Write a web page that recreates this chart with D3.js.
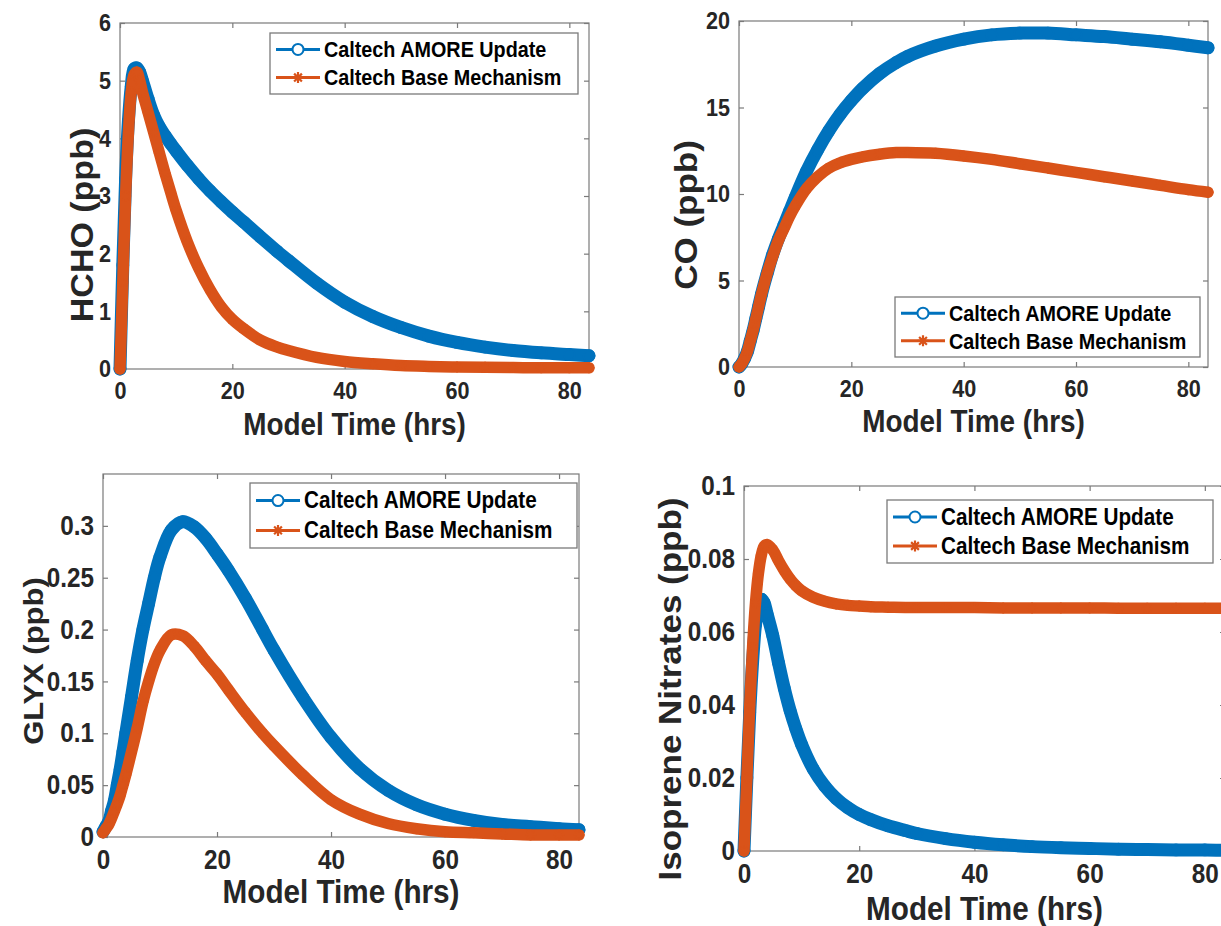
<!DOCTYPE html>
<html><head><meta charset="utf-8">
<script src="https://cdn.jsdelivr.net/npm/d3@7"></script>
<style>
body{margin:0;background:#fff}
svg{display:block}
text{font-family:"Liberation Sans",Arial,Helvetica,sans-serif;font-weight:bold}
</style>
</head><body>
<svg id="chart" width="1221" height="926"></svg>
<script>
// ---- data ----
const hours = [0,0.5,1,1.5,2,2.5,3,3.5,4,5,6,7,8,9,10,12,14,16,18,20,22,25,28,30,35,40,45,50,55,60,65,70,75,80,83.5];
const seriesNames = ["Caltech AMORE Update","Caltech Base Mechanism"];

const hchoAmore = [0,1.8,3.3,4.3,4.9,5.2,5.22,5.15,5.0,4.68,4.4,4.2,4.05,3.91,3.78,3.53,3.3,3.09,2.9,2.72,2.55,2.29,2.04,1.88,1.49,1.16,0.91,0.72,0.57,0.46,0.38,0.32,0.28,0.25,0.23];
const hchoBase  = [0,1.5,3.0,4.1,4.8,5.1,5.15,5.0,4.8,4.45,4.1,3.75,3.4,3.07,2.75,2.2,1.75,1.38,1.08,0.86,0.7,0.5,0.38,0.32,0.2,0.13,0.09,0.06,0.045,0.035,0.03,0.025,0.02,0.02,0.02];

const coAmore = [0,0.2,0.5,0.9,1.5,2.1,2.8,3.5,4.2,5.4,6.5,7.4,8.2,9.0,9.8,11.3,12.55,13.65,14.6,15.4,16.1,16.95,17.6,17.95,18.55,18.95,19.2,19.3,19.3,19.2,19.1,18.95,18.8,18.6,18.45];
const coBase  = [0,0.2,0.5,0.9,1.5,2.1,2.8,3.5,4.2,5.4,6.4,7.3,8.0,8.7,9.3,10.3,11.0,11.5,11.8,12.0,12.15,12.3,12.4,12.4,12.35,12.2,12.0,11.75,11.5,11.25,11.0,10.75,10.5,10.25,10.1];

const glyxAmore = [0.005,0.01,0.015,0.025,0.035,0.05,0.065,0.082,0.1,0.135,0.17,0.2,0.225,0.25,0.27,0.296,0.304,0.299,0.288,0.273,0.257,0.23,0.2,0.18,0.135,0.096,0.066,0.045,0.031,0.022,0.016,0.012,0.01,0.008,0.007];
const glyxBase  = [0.004,0.008,0.012,0.018,0.025,0.032,0.04,0.05,0.06,0.082,0.105,0.13,0.15,0.167,0.18,0.195,0.194,0.184,0.17,0.157,0.142,0.12,0.1,0.088,0.06,0.036,0.022,0.013,0.008,0.005,0.004,0.003,0.002,0.002,0.002];

const isonAmore = [0,0.02,0.038,0.052,0.062,0.067,0.069,0.068,0.065,0.059,0.0515,0.0445,0.0385,0.0335,0.0292,0.0225,0.0178,0.0144,0.0119,0.01,0.0086,0.0069,0.0056,0.0048,0.0034,0.0024,0.0017,0.0012,0.0009,0.0007,0.0005,0.0004,0.0003,0.0003,0.0002];
const isonBase  = [0,0.02,0.04,0.056,0.068,0.076,0.081,0.0835,0.084,0.0825,0.0795,0.0768,0.0745,0.0727,0.0713,0.0695,0.0684,0.0677,0.0673,0.0671,0.0669,0.0668,0.0667,0.0667,0.0667,0.0667,0.0666,0.0666,0.0666,0.0666,0.0665,0.0665,0.0665,0.0665,0.0665];

const xTicks = [0,20,40,60,80];
const hchoTicks = [0,1,2,3,4,5,6];
const coTicks = [0,5,10,15,20];
const glyxTicks = [0,0.05,0.1,0.15,0.2,0.25,0.3];
const isonTicks = [0,0.02,0.04,0.06,0.08,0.1];
const xTitle = "Model Time (hrs)";

// ---- layout / style ----
const blue = "#0072BD", orange = "#D95319";
const SX = 0.9; // horizontal squeeze of the reference lettering
const panels = [
  {a:hchoAmore,b:hchoBase,yMax:6,yt:hchoTicks,yl:"HCHO (ppb)",
   L:120,R:589,T:23,B:369, tfs:24, xfs:31, yfs:34, ylx:83, yly:225, xly:435,
   leg:{x:270,y:33,w:308,h:61}},
  {a:coAmore,b:coBase,yMax:20,yt:coTicks,yl:"CO (ppb)",
   L:739,R:1208,T:21,B:367, tfs:24, xfs:31, yfs:35, ylx:686, yly:215, xly:432,
   leg:{x:895,y:297,w:305,h:60}},
  {a:glyxAmore,b:glyxBase,yMax:0.35,yt:glyxTicks,yl:"GLYX (ppb)",
   L:103,R:579,T:474,B:837, tfs:27, xfs:33, yfs:31, ylx:33, yly:661, xly:903,
   leg:{x:250,y:483,w:327,h:65}},
  {a:isonAmore,b:isonBase,yMax:0.1,yt:isonTicks,yl:"Isoprene Nitrates (ppb)",
   L:744,R:1225,T:486,B:851, tfs:27, xfs:33, yfs:35, ylx:670, yly:689, xly:920,
   leg:{x:887,y:500,w:326,h:63}}
];

const svg = d3.select("#chart");

function asteriskPath(r){
  const d = r*0.7071;
  return `M${-r},0L${r},0M0,${-r}L0,${r}M${-d},${-d}L${d},${d}M${-d},${d}L${d},${-d}`;
}

panels.forEach(p=>{
  const g = svg.append("g");
  const x = d3.scaleLinear().domain([0,83.5]).range([p.L,p.R]);
  const y = d3.scaleLinear().domain([0,p.yMax]).range([p.B,p.T]);
  const tl = 5;
  const fmt = v => String(+v.toFixed(4));

  // box
  g.append("rect").attr("x",p.L).attr("y",p.T).attr("width",p.R-p.L).attr("height",p.B-p.T)
    .attr("fill","none").attr("stroke","#7a7a7a").attr("stroke-width",1.2);

  // axes (inward ticks on all four sides)
  const axB = d3.axisBottom(x).tickValues(xTicks).tickSize(tl).tickFormat(fmt);
  const axT = d3.axisTop(x).tickValues(xTicks).tickSize(tl).tickFormat("");
  const axL = d3.axisLeft(y).tickValues(p.yt).tickSize(tl).tickFormat(fmt);
  const axR = d3.axisRight(y).tickValues(p.yt).tickSize(tl).tickFormat("");

  const gB = g.append("g").attr("transform",`translate(0,${p.B})`).call(axB);
  gB.selectAll(".tick line").attr("y2",-tl);
  gB.selectAll(".tick text").attr("y",13);
  const gT = g.append("g").attr("transform",`translate(0,${p.T})`).call(axT);
  gT.selectAll(".tick line").attr("y2",tl);
  const gL = g.append("g").attr("transform",`translate(${p.L},0)`).call(axL);
  gL.selectAll(".tick line").attr("x2",tl);
  const gR = g.append("g").attr("transform",`translate(${p.R},0)`).call(axR);
  gR.selectAll(".tick line").attr("x2",-tl);
  [gB,gT,gL,gR].forEach(a=>{
    a.select(".domain").remove();
    a.selectAll(".tick line").attr("stroke","#7a7a7a").attr("stroke-width",1.2);
    a.selectAll(".tick text").attr("fill","#262626").attr("font-size",p.tfs)
      .attr("transform",`scale(${SX},1)`)
      .attr("font-family","'Liberation Sans',Arial,sans-serif").attr("font-weight","bold");
  });
  gL.selectAll(".tick text").attr("x",-9/SX);

  // axis titles
  g.append("g").attr("transform",`translate(${(p.L+p.R)/2},${p.xly}) scale(${SX},1)`)
    .append("text").attr("text-anchor","middle").attr("fill","#262626")
    .attr("font-size",p.xfs).text(xTitle);
  g.append("g").attr("transform",`translate(${p.ylx},${p.yly}) scale(${SX},1) rotate(-90)`)
    .append("text").attr("text-anchor","middle").attr("dominant-baseline","central")
    .attr("fill","#262626").attr("font-size",p.yfs).text(p.yl);

  // series
  const line = d3.line().x((d,i)=>x(hours[i])).y(d=>y(d)).curve(d3.curveCatmullRom.alpha(0.5));
  const sers = [{v:p.a,c:blue,w:13,m:"o"},{v:p.b,c:orange,w:11.5,m:"*"}];
  sers.forEach(s=>{
    g.append("path").attr("d",line(s.v)).attr("fill","none").attr("stroke",s.c)
      .attr("stroke-width",s.w).attr("stroke-linejoin","round").attr("stroke-linecap","round");
    const mk = g.append("g");
    s.v.forEach((v,i)=>{
      if(s.m==="o"){
        mk.append("circle").attr("cx",x(hours[i])).attr("cy",y(v)).attr("r",5.5)
          .attr("fill","none").attr("stroke",s.c).attr("stroke-width",1.8);
      } else {
        mk.append("path").attr("transform",`translate(${x(hours[i])},${y(v)})`)
          .attr("d",asteriskPath(5.5)).attr("stroke",s.c).attr("stroke-width",1.8);
      }
    });
  });

  // legend
  const L = p.leg;
  const lg = g.append("g");
  lg.append("rect").attr("x",L.x).attr("y",L.y).attr("width",L.w).attr("height",L.h)
    .attr("fill","#fff").attr("stroke","#7a7a7a").attr("stroke-width",1.3);
  const lfs = Math.round(L.h*0.36);
  seriesNames.forEach((nm,i)=>{
    const cy = L.y + L.h*(i===0?0.27:0.73);
    const x0 = L.x+6, x1 = L.x+50;
    const c = i===0?blue:orange;
    lg.append("line").attr("x1",x0).attr("x2",x1).attr("y1",cy).attr("y2",cy)
      .attr("stroke",c).attr("stroke-width",3);
    if(i===0){
      lg.append("circle").attr("cx",(x0+x1)/2).attr("cy",cy).attr("r",5.5)
        .attr("fill","#fff").attr("stroke",c).attr("stroke-width",2);
    } else {
      lg.append("path").attr("transform",`translate(${(x0+x1)/2},${cy})`)
        .attr("d",asteriskPath(5.5)).attr("stroke",c).attr("stroke-width",2.2);
    }
    lg.append("g").attr("transform",`translate(${x1+4},${cy}) scale(${SX},1)`)
      .append("text").attr("dominant-baseline","central")
      .attr("fill","#000").attr("font-size",lfs).text(nm);
  });
});
</script>
</body></html>
